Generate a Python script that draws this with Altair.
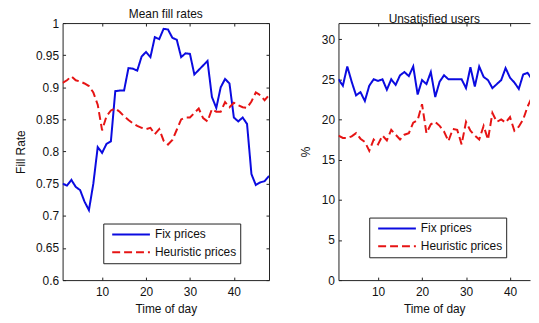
import altair as alt
import pandas as pd

time_of_day = list(range(1, 49))
series_names = ["Fix prices", "Heuristic prices"]

fill_fix = [0.750, 0.747, 0.756, 0.745, 0.740, 0.722, 0.709, 0.750, 0.807, 0.798,
            0.812, 0.816, 0.894, 0.895, 0.895, 0.930, 0.929, 0.926, 0.948, 0.955,
            0.947, 0.978, 0.975, 0.991, 0.990, 0.977, 0.974, 0.947, 0.953, 0.952,
            0.920, 0.927, 0.934, 0.941, 0.885, 0.868, 0.900, 0.913, 0.906, 0.853,
            0.847, 0.853, 0.843, 0.765, 0.748, 0.752, 0.754, 0.762]
fill_heur = [0.907, 0.911, 0.917, 0.911, 0.909, 0.906, 0.902, 0.892, 0.873, 0.833,
             0.855, 0.864, 0.867, 0.862, 0.855, 0.849, 0.844, 0.840, 0.837, 0.835,
             0.837, 0.827, 0.835, 0.817, 0.811, 0.818, 0.834, 0.850, 0.853, 0.853,
             0.860, 0.867, 0.852, 0.847, 0.866, 0.862, 0.862, 0.877, 0.869, 0.876,
             0.872, 0.869, 0.868, 0.878, 0.892, 0.888, 0.880, 0.888]
unsat_fix = [25.0, 24.2, 26.6, 24.7, 23.0, 23.4, 22.3, 24.2, 25.0, 24.8,
             25.0, 23.7, 25.0, 24.3, 25.5, 25.9, 25.4, 26.6, 23.1, 24.9,
             24.4, 25.9, 22.8, 24.7, 25.5, 25.0, 25.0, 25.0, 25.0, 23.9,
             26.5, 24.1, 26.6, 25.3, 24.9, 23.9, 24.4, 24.9, 26.4, 25.2,
             24.6, 23.8, 25.6, 25.8, 25.0, 26.6, 26.8, 26.2]
unsat_heur = [18.0, 17.7, 17.7, 17.9, 18.3, 17.6, 17.2, 16.1, 17.5, 16.9,
              18.0, 17.4, 18.7, 18.1, 17.5, 18.1, 18.3, 19.6, 19.9, 21.9,
              18.3, 19.4, 19.7, 19.2, 18.5, 17.3, 18.8, 18.7, 16.9, 19.7,
              18.6, 18.0, 17.5, 19.2, 17.5, 20.8, 19.7, 20.0, 19.6, 20.3,
              18.6, 19.1, 20.0, 21.6, 22.8, 21.2, 19.8, 20.5]

x_ticks = [10, 20, 30, 40]
fill_ticks = [0.6, 0.65, 0.7, 0.75, 0.8, 0.85, 0.9, 0.95, 1.0]
unsat_ticks = [0, 5, 10, 15, 20, 25, 30]

FONT = "Liberation Sans"
BLUE = "#0b0be0"
RED = "#e61414"
FRAME = "#222222"
TICK = 3


def long_df(a, b):
    return pd.DataFrame({
        "t": time_of_day + time_of_day,
        "v": a + b,
        "series": [series_names[0]] * len(a) + [series_names[1]] * len(b),
    })


def tick_axis(orient, values):
    return alt.Axis(orient=orient, values=values, domain=False, tickSize=TICK,
                    offset=-TICK, labels=False, title=None)


def border_axis(orient):
    return alt.Axis(orient=orient, domain=True, ticks=False, labels=False, title=None,
                    domainColor=FRAME, domainWidth=1)


def panel(df, title, ytitle, xmax, ydomain, yvalues, lx, ly, w, h, ytp, right_side):
    leg = alt.Legend(
        title=None, orient="none", legendX=lx, legendY=ly,
        symbolType="stroke", symbolSize=1444, symbolStrokeWidth=2,
        clipHeight=16, rowPadding=2, padding=3, symbolOffset=5,
        labelOffset=4, labelFont=FONT, labelFontSize=12, labelColor="#111",
        strokeColor=FRAME, fillColor="white", cornerRadius=0,
    )
    color = alt.Color("series:N", scale=alt.Scale(domain=series_names, range=[BLUE, RED]), legend=leg)
    dash = alt.StrokeDash("series:N", scale=alt.Scale(domain=series_names, range=[[1, 0], [8, 4]]), legend=leg)
    xs = alt.Scale(domain=[1, xmax], nice=False, zero=False)
    ys = alt.Scale(domain=ydomain, nice=False, zero=False)
    lines = alt.Chart(df).mark_line(strokeWidth=2, clip=True).encode(
        x=alt.X("t:Q", scale=xs, title="Time of day",
                axis=alt.Axis(orient="bottom", values=x_ticks, domain=False, tickSize=TICK,
                              offset=-TICK, labelPadding=7, titlePadding=6, format="d")),
        y=alt.Y("v:Q", scale=ys, title=ytitle,
                axis=alt.Axis(orient="left", values=yvalues, domain=False, tickSize=TICK,
                              offset=-TICK, labelPadding=4, titlePadding=ytp, format="~g")),
        color=color,
        strokeDash=dash,
        order="t:Q",
    )
    base = alt.Chart(df).mark_line(opacity=0, clip=True)
    ticks2 = base.encode(
        x=alt.X("t:Q", axis=tick_axis("top", x_ticks)),
        y=alt.Y("v:Q", axis=(tick_axis("right", yvalues) if right_side else None)),
    )
    border1 = base.encode(
        x=alt.X("t:Q", axis=border_axis("bottom")),
        y=alt.Y("v:Q", axis=border_axis("left")),
    )
    border2 = base.encode(
        x=alt.X("t:Q", axis=border_axis("top")),
        y=alt.Y("v:Q", axis=(border_axis("right") if right_side else None)),
    )
    return alt.layer(lines, ticks2, border1, border2).resolve_axis(
        x="independent", y="independent"
    ).properties(
        width=w, height=h,
        title=alt.Title(title, anchor="middle", frame="group", offset=-3.5, font=FONT,
                        fontSize=12, fontWeight="normal", color="#111"),
    )


left = panel(long_df(fill_fix, fill_heur), "Mean fill rates", "Fill Rate", 48,
             [0.6, 1.0], fill_ticks, 41, 202, 208, 259, 8, True)
right = panel(long_df(unsat_fix, unsat_heur), "Unsatisfied users", "%", 44.55,
              [0, 32], unsat_ticks, 31, 196, 193, 259, 9, False)

chart = alt.hconcat(left, right, spacing=29).resolve_scale(
    color="independent", strokeDash="independent"
).resolve_legend(
    color="independent", strokeDash="independent"
).properties(
    padding={"left": 6, "top": -2, "right": 0, "bottom": 0}
).configure_view(
    stroke="transparent"
).configure_axis(
    grid=False, labelFont=FONT, labelFontSize=12, labelColor="#111",
    titleFont=FONT, titleFontSize=12, titleFontWeight="normal", titleColor="#111",
    tickColor=FRAME, tickWidth=1,
)

chart.save("out.html", embed_options={"renderer": "svg", "actions": False})
